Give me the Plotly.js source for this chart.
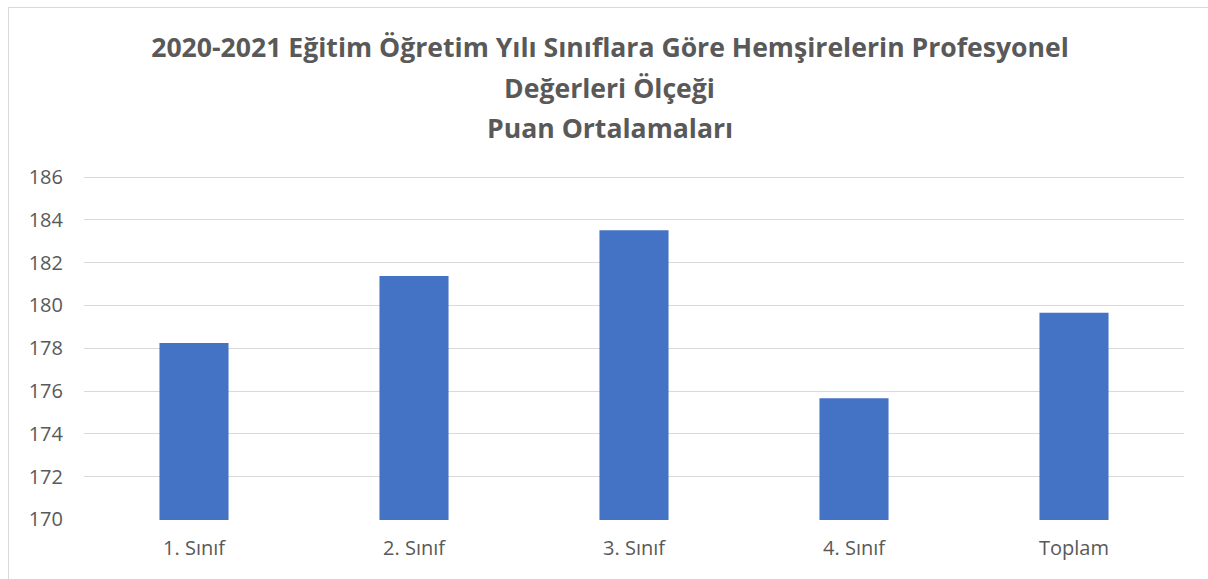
<!DOCTYPE html>
<html>
<head>
<meta charset="utf-8">
<script src="https://cdn.plot.ly/plotly-3.0.1.min.js"></script>
<style>
html,body{margin:0;padding:0;background:#fff;}
#wrap{position:relative;width:1208px;height:579px;overflow:hidden;}
#chart{width:1208px;height:579px;}
#frame{position:absolute;left:8px;top:7px;width:1300px;height:700px;border:1px solid #d9d9d9;pointer-events:none;}
</style>
</head>
<body>
<div id="wrap">
<div id="chart"></div>
<div id="frame"></div>
</div>
<script>
const categories = ["1. Sınıf", "2. Sınıf", "3. Sınıf", "4. Sınıf", "Toplam"];
const values = [178.25, 181.38, 183.52, 175.66, 179.66];
const titleLines = [
  "2020-2021 Eğitim Öğretim Yılı Sınıflara Göre Hemşirelerin Profesyonel",
  "Değerleri Ölçeği",
  "Puan Ortalamaları"
];
const yTicks = [170, 172, 174, 176, 178, 180, 182, 184, 186];

const FONT = "Open Sans, Noto Sans, sans-serif";
const titleFont = {family: FONT, size: 26.6, color: "#595959", weight: 700};

const trace = {
  type: "bar",
  x: categories,
  y: values,
  marker: {color: "#4472C4"},
  hoverinfo: "x+y"
};

const layout = {
  width: 1208,
  height: 579,
  margin: {l: 84, r: 24, t: 175, b: 59},
  paper_bgcolor: "#ffffff",
  plot_bgcolor: "#ffffff",
  bargap: 0.686,
  showlegend: false,
  title: {
    text: "<b>" + titleLines[0] + "</b>",
    font: titleFont,
    xref: "container", yref: "container",
    x: 0.505, y: 1 - 48/579,
    xanchor: "center", yanchor: "middle"
  },
  annotations: [
    {text: "<b>" + titleLines[1] + "</b>", xref: "paper", yref: "paper", x: 0.478, y: 1.252,
     xanchor: "center", yanchor: "middle", showarrow: false, font: titleFont},
    {text: "<b>" + titleLines[2] + "</b>", xref: "paper", yref: "paper", x: 0.478, y: 1.136,
     xanchor: "center", yanchor: "middle", showarrow: false, font: titleFont}
  ],
  xaxis: {
    type: "category",
    showgrid: false,
    zeroline: false,
    showline: false,
    ticks: "",
    tickfont: {family: FONT, size: 20, color: "#595959"},
    ticklabelstandoff: 14
  },
  yaxis: {
    range: [169.97, 186.1],
    tickvals: yTicks,
    ticktext: yTicks.map(String),
    showgrid: true,
    gridcolor: "#d9d9d9",
    gridwidth: 1,
    zeroline: false,
    showline: false,
    ticks: "",
    tickfont: {family: FONT, size: 20, color: "#595959"},
    ticklabelstandoff: 20
  }
};

Plotly.newPlot("chart", [trace], layout, {displayModeBar: false, staticPlot: true});
</script>
</body>
</html>
